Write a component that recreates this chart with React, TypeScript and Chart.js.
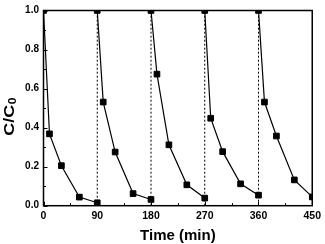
import React, { useEffect, useRef } from "react";
import { Chart, registerables } from "chart.js";

Chart.register(...registerables);

// Time (min) and C/C0 for each of the five cycles
const cycle1Time = [0, 10, 30, 60, 90];
const cycle1Conc = [1.0, 0.368, 0.205, 0.044, 0.015];
const cycle2Time = [90, 100, 120, 150, 180];
const cycle2Conc = [1.0, 0.531, 0.275, 0.062, 0.032];
const cycle3Time = [180, 190, 210, 240, 270];
const cycle3Conc = [1.0, 0.674, 0.312, 0.107, 0.039];
const cycle4Time = [270, 280, 300, 330, 360];
const cycle4Conc = [1.0, 0.448, 0.277, 0.112, 0.054];
const cycle5Time = [360, 370, 390, 420, 450];
const cycle5Conc = [1.0, 0.531, 0.357, 0.132, 0.045];

const cycleBoundaries = [90, 180, 270, 360];
const xTickStep = 90;
const yTickStep = 0.2;
const xTitle = "Time (min)";
const yTitleMain = "C/C";
const yTitleSub = "0";

const FONT = "'Liberation Sans', Arial, Helvetica, sans-serif";

const cycles = [
  [cycle1Time, cycle1Conc],
  [cycle2Time, cycle2Conc],
  [cycle3Time, cycle3Conc],
  [cycle4Time, cycle4Conc],
  [cycle5Time, cycle5Conc],
];

const framePlugin = {
  id: "framePlugin",
  afterDraw(chart: any) {
    const { ctx, chartArea } = chart;
    const xs = chart.scales.x;
    const ys = chart.scales.y;
    const { left, right, top, bottom } = chartArea;
    ctx.save();
    ctx.strokeStyle = "#000";
    // ticks
    ctx.lineWidth = 1;
    const xt = xs.ticks.map((t: any) => t.value);
    const yt = ys.ticks.map((t: any) => t.value);
    ctx.beginPath();
    xt.forEach((v: number, i: number) => {
      const px = Math.round(xs.getPixelForValue(v)) + 0.5;
      ctx.moveTo(px, bottom);
      ctx.lineTo(px, bottom - 4);
      if (i < xt.length - 1) {
        const mx = Math.round(xs.getPixelForValue((v + xt[i + 1]) / 2)) + 0.5;
        ctx.moveTo(mx, bottom);
        ctx.lineTo(mx, bottom - 2.5);
      }
    });
    yt.forEach((v: number, i: number) => {
      const py = Math.round(ys.getPixelForValue(v)) + 0.5;
      ctx.moveTo(left, py);
      ctx.lineTo(left + 4, py);
      if (i < yt.length - 1) {
        const my = Math.round(ys.getPixelForValue((v + yt[i + 1]) / 2)) + 0.5;
        ctx.moveTo(left, my);
        ctx.lineTo(left + 2.5, my);
      }
    });
    ctx.stroke();
    // frame
    ctx.lineWidth = 1.5;
    ctx.strokeRect(left, top, right - left, bottom - top);

    // x title
    ctx.fillStyle = "#000";
    ctx.font = `bold 15px ${FONT}`;
    ctx.textAlign = "center";
    ctx.textBaseline = "alphabetic";
    ctx.fillText(xTitle, (left + right) / 2, 240);

    // y title with subscript
    ctx.translate(14, 117);
    ctx.rotate(-Math.PI / 2);
    ctx.scale(1.2, 1);
    ctx.font = `bold 15px ${FONT}`;
    const wMain = ctx.measureText(yTitleMain).width;
    ctx.font = `bold 10px ${FONT}`;
    const wSub = ctx.measureText(yTitleSub).width;
    const start = -(wMain + wSub) / 2;
    ctx.textAlign = "left";
    ctx.font = `bold 15px ${FONT}`;
    ctx.fillText(yTitleMain, start, 0);
    ctx.font = `bold 10px ${FONT}`;
    ctx.fillText(yTitleSub, start + wMain + 0.5, 2);
    ctx.restore();
  },
};

export default function App() {
  const ref = useRef<HTMLCanvasElement | null>(null);

  useEffect(() => {
    document.body.style.margin = "0";
    const canvas = ref.current;
    if (!canvas) return;

    const datasets: any[] = [];
    cycleBoundaries.forEach((b) => {
      datasets.push({
        data: [
          { x: b, y: 0 },
          { x: b, y: 1 },
        ],
        borderColor: "#000",
        borderWidth: 1,
        borderDash: [2, 2],
        pointRadius: 0,
        order: 2,
        clip: 0,
      });
    });
    cycles.forEach(([t, c]) => {
      datasets.push({
        data: t.map((x, i) => ({ x, y: c[i] })),
        borderColor: "#000",
        borderWidth: 1.2,
        pointStyle: "rect",
        pointRadius: 4,
        pointBackgroundColor: "#000",
        pointBorderColor: "#000",
        pointBorderWidth: 1,
        tension: 0,
        order: 1,
        clip: 0,
      });
    });

    const chart = new Chart(canvas, {
      type: "line",
      data: { datasets },
      options: {
        animation: false,
        responsive: false,
        devicePixelRatio: 1,
        events: [],
        layout: { padding: { top: 6, right: 11, left: 0, bottom: 0 } },
        plugins: {
          legend: { display: false },
          tooltip: { enabled: false },
        },
        scales: {
          x: {
            type: "linear",
            min: 0,
            max: 450,
            grid: { display: false, drawTicks: false },
            border: { display: false },
            ticks: {
              stepSize: xTickStep,
              padding: 4,
              maxRotation: 0,
              color: "#000",
              font: { family: FONT, size: 10.5, weight: "bold" },
            },
            afterFit: (s: any) => {
              s.height = 38.3;
            },
          },
          y: {
            type: "linear",
            min: 0,
            max: 1,
            grid: { display: false, drawTicks: false },
            border: { display: false },
            ticks: {
              stepSize: yTickStep,
              padding: 4.5,
              color: "#000",
              font: { family: FONT, size: 10, weight: "bold" },
              callback: (v: any) => Number(v).toFixed(1),
            },
            afterFit: (s: any) => {
              s.width = 43.5;
            },
          },
        },
      },
      plugins: [framePlugin],
    } as any);

    return () => chart.destroy();
  }, []);

  return (
    <div style={{ width: 325, height: 244 }}>
      <canvas ref={ref} width={325} height={244} style={{ display: "block" }} />
    </div>
  );
}
